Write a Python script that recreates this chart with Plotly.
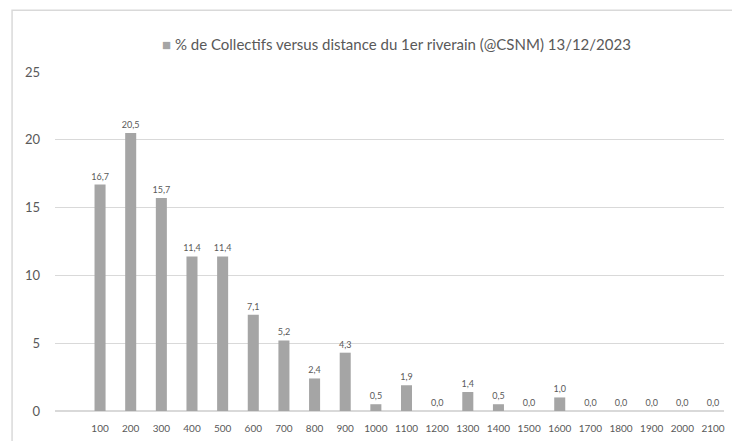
import plotly.graph_objects as go

categories = ["100", "200", "300", "400", "500", "600", "700", "800", "900", "1000",
              "1100", "1200", "1300", "1400", "1500", "1600", "1700", "1800", "1900", "2000", "2100"]
values = [16.7, 20.5, 15.7, 11.4, 11.4, 7.1, 5.2, 2.4, 4.3, 0.5,
          1.9, 0.0, 1.4, 0.5, 0.0, 1.0, 0.0, 0.0, 0.0, 0.0, 0.0]
series_name = "% de Collectifs versus distance du 1er riverain (@CSNM) 13/12/2023"
y_ticks = [0, 5, 10, 15, 20, 25]

labels = [f"{v:.1f}".replace(".", ",") for v in values]

W, H = 732, 441
ml, mr, mt, mb = 55, 7, 72, 28
pw, ph = W - ml - mr, H - mt - mb

fig = go.Figure()
fig.add_trace(go.Bar(
    x=list(range(len(categories))), y=values, name=series_name,
    marker=dict(color="#a5a5a5", line=dict(width=0)),
    text=labels, textposition="outside", cliponaxis=False, constraintext="none",
    textfont=dict(family="Lato", size=9, color="#595959"),
    width=0.36, showlegend=False,
))

fig.add_annotation(
    xref="paper", yref="paper", x=(397 - ml) / pw, y=(H - mb - 44) / ph,
    xanchor="center", yanchor="middle", showarrow=False,
    text="<span style='color:#a5a5a5'>■</span> " + series_name,
    font=dict(family="Lato", size=15, color="#595959"),
)

fig.update_layout(
    width=W, height=H,
    margin=dict(l=ml, r=mr, t=mt, b=mb),
    paper_bgcolor="white", plot_bgcolor="white",
    font=dict(family="Lato", color="#595959"),
    xaxis=dict(
        tickmode="array", tickvals=list(range(len(categories))), ticktext=categories,
        range=[-1.47, 20.36], showgrid=False, zeroline=False, showline=False,
        ticks="", tickfont=dict(family="Lato", size=10, color="#595959"),
        ticklabelstandoff=10,
    ),
    yaxis=dict(
        range=[0, 25], tickvals=y_ticks, showgrid=True, gridcolor="#d9d9d9", gridwidth=1,
        zeroline=True, zerolinecolor="#d9d9d9", zerolinewidth=1.5, showline=False, ticks="",
        tickfont=dict(family="Lato", size=13, color="#595959"),
        ticklabelstandoff=14,
    ),
    shapes=[dict(type="rect", xref="paper", yref="paper",
                 x0=(12 - ml) / pw, x1=(W + 20 - ml) / pw,
                 y0=-(mb + 20) / ph, y1=(H - mb - 10) / ph,
                 line=dict(color="#d9d9d9", width=1.5), fillcolor="rgba(0,0,0,0)", layer="below")],
)

fig.write_html("out.html", config={"displayModeBar": False},
               post_script="document.body.style.margin='0';")
